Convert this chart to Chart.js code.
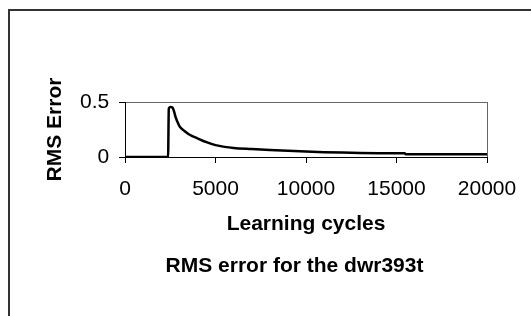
<!DOCTYPE html>
<html>
<head>
<meta charset="utf-8">
<script src="https://cdn.jsdelivr.net/npm/chart.js@4/dist/chart.umd.min.js"></script>
<style>
  html, body { margin: 0; padding: 0; background: #fff; overflow: hidden; }
  #wrap { position: relative; width: 531px; height: 316px; overflow: hidden; background: #fff; }
  #c { position: absolute; left: 0; top: 0; }
  #frame { position: absolute; left: 8px; top: 9px; width: 700px; height: 700px;
           border-left: 2px solid #333; border-top: 2px solid #333; pointer-events: none; }
</style>
</head>
<body>
<div id="wrap">
  <canvas id="c" width="589" height="316"></canvas>
  <div id="frame"></div>
</div>
<script>
// ---- data ----
const cycles = [0, 2380, 2420, 2500, 2620, 2700, 2800, 2950, 3050, 3300, 3600, 4000, 4500, 5000, 5500, 6000, 7000, 8000, 9000, 10000, 11000, 12000, 13000, 14000, 15000, 15450, 15520, 16000, 17000, 18000, 19000, 20000];
const rmsError = [0, 0, 0.44, 0.455, 0.45, 0.42, 0.36, 0.30, 0.27, 0.235, 0.20, 0.17, 0.135, 0.108, 0.092, 0.082, 0.072, 0.063, 0.056, 0.049, 0.044, 0.040, 0.037, 0.035, 0.034, 0.033, 0.025, 0.025, 0.025, 0.024, 0.024, 0.024];
const xTickLabels = ['0', '5000', '10000', '15000', '20000'];
const yTickLabels = ['0', '0.5'];
const xTitle = 'Learning cycles';
const yTitle = 'RMS Error';
const chartTitle = 'RMS error for the dwr393t';

const points = cycles.map((c, i) => ({ x: c, y: rmsError[i] }));

Chart.defaults.font.family = "'Liberation Sans', Arial, sans-serif";
Chart.defaults.color = '#000';

new Chart(document.getElementById('c'), {
  type: 'line',
  data: {
    datasets: [{
      data: points,
      borderColor: '#000',
      borderWidth: 2.5,
      pointRadius: 0,
      fill: false,
      cubicInterpolationMode: 'monotone'
    }]
  },
  options: {
    responsive: false,
    devicePixelRatio: 1,
    animation: false,
    layout: { padding: { top: 102, left: 0, right: 0, bottom: 0 } },
    plugins: {
      legend: { display: false },
      tooltip: { enabled: false },
      title: {
        display: true,
        position: 'bottom',
        text: chartTitle,
        color: '#000',
        font: { size: 21, weight: 'bold' },
        padding: { top: 16.3, bottom: 37.5 }
      }
    },
    scales: {
      x: {
        type: 'linear',
        min: 0, max: 20000,
        afterFit: s => { s.height = 80; },
        border: { display: true, color: '#000', width: 1 },
        grid: {
          drawOnChartArea: true,
          color: ctx => (ctx.tick && ctx.tick.value === 20000) ? '#666' : 'rgba(0,0,0,0)',
          tickColor: '#000',
          tickLength: 6,
          lineWidth: 1
        },
        ticks: {
          stepSize: 5000,
          maxRotation: 0,
          autoSkip: false,
          padding: 13.6,
          font: { size: 21 },
          color: '#000',
          callback: (v, i) => xTickLabels[i]
        },
        title: {
          display: true,
          text: xTitle,
          color: '#000',
          font: { size: 21, weight: 'bold' },
          padding: { top: 0, bottom: 0.5 }
        }
      },
      y: {
        type: 'linear',
        min: 0, max: 0.5,
        afterFit: s => { s.width = 125; },
        border: { display: true, color: '#000', width: 1 },
        grid: {
          drawOnChartArea: true,
          color: ctx => (ctx.tick && ctx.tick.value === 0.5) ? '#666' : 'rgba(0,0,0,0)',
          tickColor: '#000',
          tickLength: 6,
          lineWidth: 1
        },
        ticks: {
          stepSize: 0.5,
          padding: 9.8,
          font: { size: 21 },
          color: '#000',
          callback: (v, i) => yTickLabels[i]
        },
        title: {
          display: true,
          text: yTitle,
          color: '#000',
          font: { size: 21, weight: 'bold' },
          padding: { top: 42.4, bottom: 0 }
        }
      },
      yRight: {
        type: 'linear',
        position: 'right',
        display: true,
        afterFit: s => { s.width = 102; },
        border: { display: false },
        grid: { display: false, drawTicks: false },
        ticks: { display: false }
      }
    }
  }
});
</script>
</body>
</html>
